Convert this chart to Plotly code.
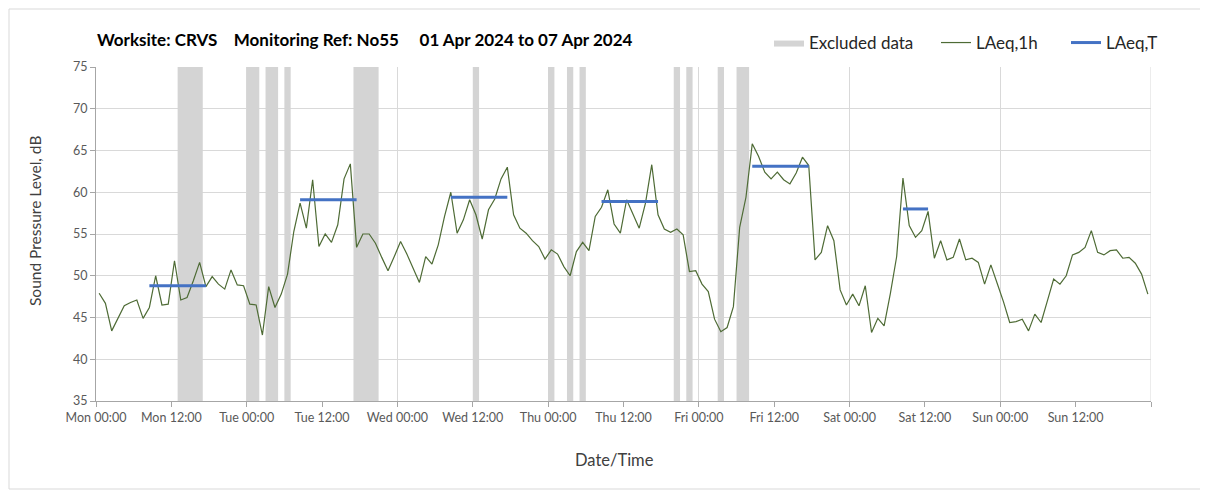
import plotly.graph_objects as go

# ---- data -------------------------------------------------------------
day_labels = ["Mon", "Tue", "Wed", "Thu", "Fri", "Sat", "Sun"]

# hourly LAeq,1h values (dB), one list per day, 00:00 .. 23:00
mon = [47.9, 46.7, 43.4, 44.9, 46.4, 46.8, 47.1, 44.9, 46.2, 50.0, 46.5, 46.6,
       51.8, 47.1, 47.4, 49.4, 51.6, 48.7, 49.9, 49.0, 48.4, 50.7, 48.9, 48.8]
tue = [46.6, 46.5, 42.9, 48.7, 46.2, 47.8, 50.2, 55.3, 58.7, 55.7, 61.5, 53.5,
       55.0, 54.0, 56.1, 61.6, 63.4, 53.4, 55.0, 55.0, 53.9, 52.2, 50.6, 52.3]
wed = [54.1, 52.6, 50.8, 49.2, 52.3, 51.4, 53.7, 57.1, 60.0, 55.1, 56.7, 59.1,
       57.3, 54.4, 57.9, 59.2, 61.6, 63.0, 57.3, 55.7, 55.1, 54.2, 53.5, 52.0]
thu = [53.1, 52.6, 51.1, 50.0, 52.9, 54.0, 53.0, 57.1, 58.2, 60.3, 56.2, 55.1,
       59.1, 57.4, 55.7, 58.7, 63.3, 57.3, 55.6, 55.2, 55.6, 54.9, 50.5, 50.6]
fri = [49.0, 48.1, 44.8, 43.3, 43.8, 46.3, 55.8, 59.4, 65.8, 64.3, 62.4, 61.6,
       62.4, 61.5, 61.0, 62.3, 64.2, 63.2, 51.9, 52.8, 56.0, 54.2, 48.3, 46.5]
sat = [47.8, 46.4, 48.8, 43.2, 44.9, 44.0, 47.9, 52.3, 61.7, 56.0, 54.6, 55.4,
       57.7, 52.1, 54.2, 51.9, 52.2, 54.4, 51.9, 52.1, 51.6, 49.0, 51.3, 49.1]
sun = [46.9, 44.4, 44.5, 44.8, 43.4, 45.4, 44.4, 47.0, 49.6, 49.0, 50.0, 52.5,
       52.8, 53.4, 55.4, 52.8, 52.5, 53.0, 53.1, 52.1, 52.2, 51.5, 50.2, 47.8]

# LAeq,T periods: start hour index, end hour index (inclusive), level dB
laeqT_start = [8, 32, 56, 80, 104, 128]
laeqT_end = [17, 41, 65, 89, 113, 132]
laeqT_level = [48.8, 59.1, 59.4, 58.9, 63.1, 58.0]

# excluded-data periods (hours from Mon 00:00)
excl_start = [13, 24, 27, 30, 41, 60, 72, 75, 77, 92, 94, 99, 102]
excl_end = [17, 26, 29, 31, 45, 61, 73, 76, 78, 93, 95, 100, 104]

y_min, y_max = 35, 75

# ---- derived ----------------------------------------------------------
levels = mon + tue + wed + thu + fri + sat + sun
hours = [h + 0.5 for h in range(len(levels))]  # hourly interval midpoints

tick_vals = list(range(0, 169, 12))
tick_text = [f"{d} {t}" for d in day_labels for t in ("00:00", "12:00")] + [""]

fig = go.Figure()

# excluded data bands
bx, by = [], []
for s, e in zip(excl_start, excl_end):
    bx += [s, s, e, e, s, None]
    by += [y_min, y_max, y_max, y_min, y_min, None]
fig.add_trace(go.Scatter(
    x=bx, y=by, mode="lines", fill="toself", fillcolor="#d4d4d4",
    line=dict(width=0, color="#d4d4d4"), name="Excluded data",
    hoverinfo="skip", legend="legend"))

fig.add_trace(go.Scatter(
    x=hours, y=levels, mode="lines", name="LAeq,1h",
    line=dict(color="#4e6b35", width=1.2), legend="legend2"))

tx, ty = [], []
for s, e, v in zip(laeqT_start, laeqT_end, laeqT_level):
    tx += [hours[s], hours[e], None]
    ty += [v, v, None]
fig.add_trace(go.Scatter(
    x=tx, y=ty, mode="lines", name="LAeq,T",
    line=dict(color="#4472c4", width=3), legend="legend3"))

font_family = "Lato, Carlito, 'Open Sans', sans-serif"

# page is offset by the browser's 8px body margin
W, H = 1200, 484
ML, MR, MT, MB = 88, 57, 59, 91
PW, PH = W - ML - MR, H - MT - MB


def px(xpage):
    return (xpage - 8 - ML) / PW


def py(ypage):
    return (H - MB - (ypage - 8)) / PH


def legend_at(xpage):
    return dict(orientation="h", xanchor="left", x=px(xpage),
                yanchor="middle", y=py(43),
                font=dict(size=17, color="#262626"),
                bgcolor="rgba(0,0,0,0)")


fig.update_layout(
    width=W, height=H,
    margin=dict(l=ML, r=MR, t=MT, b=MB, autoexpand=False),
    paper_bgcolor="white", plot_bgcolor="white",
    font=dict(family=font_family, color="#595959", size=12),
    showlegend=True,
    legend=legend_at(769),
    legend2=legend_at(936),
    legend3=legend_at(1066),
    xaxis=dict(range=[0, 168], tickvals=tick_vals, ticktext=tick_text,
               showgrid=False, ticks="outside", ticklen=5, tickcolor="#a6a6a6",
               showline=True, linecolor="#a6a6a6", linewidth=1,
               tickfont=dict(size=12.5, color="#595959"),
               minor=dict(tick0=0, dtick=24, showgrid=True,
                          gridcolor="#d9d9d9", gridwidth=1, ticks=""),
               zeroline=False, fixedrange=True, automargin=False),
    yaxis=dict(range=[y_min, y_max], dtick=5, showgrid=True,
               gridcolor="#d9d9d9", gridwidth=1,
               ticks="outside", ticklen=5, tickcolor="#a6a6a6",
               showline=True, linecolor="#a6a6a6", linewidth=1,
               tickfont=dict(size=12.5, color="#595959"),
               zeroline=False, fixedrange=True, automargin=False),
)

# right border of the plot area (end of the week)
fig.add_shape(type="line", xref="x", yref="paper", x0=168, x1=168, y0=0, y1=1,
              line=dict(color="#d9d9d9", width=1))
# outer chart border
fig.add_shape(type="rect", xref="paper", yref="paper",
              x0=px(9), x1=px(1203), y0=py(489), y1=py(9),
              line=dict(color="#d9d9d9", width=1), layer="below")

fig.add_annotation(
    text="<b>Worksite: CRVS&nbsp;&nbsp;&nbsp; Monitoring Ref: No55&nbsp;&nbsp;&nbsp;&nbsp; 01 Apr 2024 to 07 Apr 2024</b>",
    xref="paper", yref="paper", x=px(95), y=py(40),
    xanchor="left", yanchor="middle", showarrow=False,
    font=dict(size=17, color="#000000", family=font_family))

fig.add_annotation(
    text="Sound Pressure Level, dB", xref="paper", yref="paper",
    x=px(35), y=py(221), textangle=-90,
    xanchor="center", yanchor="middle", showarrow=False,
    font=dict(size=15.5, color="#404040"))
fig.add_annotation(
    text="Date/Time", xref="paper", yref="paper",
    x=px(614), y=py(460),
    xanchor="center", yanchor="middle", showarrow=False,
    font=dict(size=16.5, color="#404040"))

fig.write_html("out.html")
